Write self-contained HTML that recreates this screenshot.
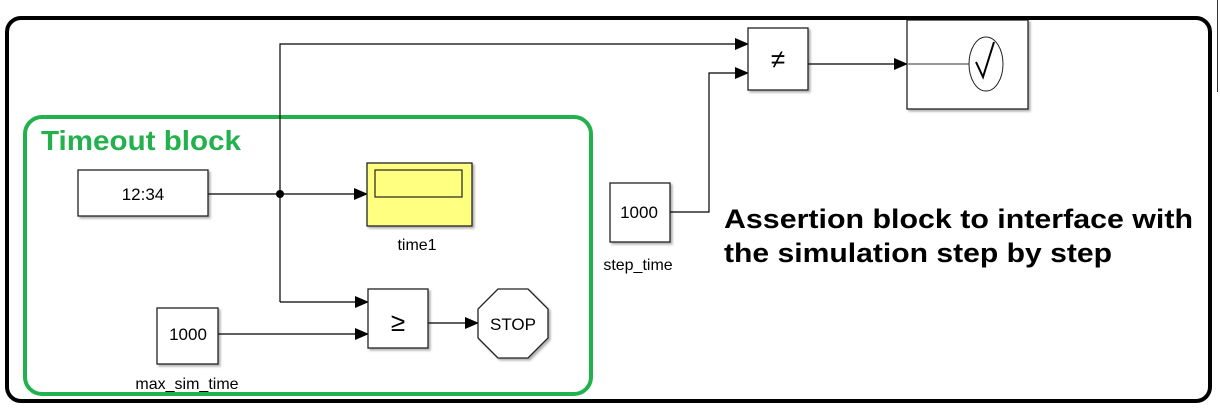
<!DOCTYPE html>
<html><head><meta charset="utf-8"><style>
html,body{margin:0;padding:0;background:#fff;width:1220px;height:413px;overflow:hidden}
svg{display:block}
text{font-family:"Liberation Sans",sans-serif}
</style></head><body>
<svg width="1220" height="413" viewBox="0 0 1220 413" xmlns="http://www.w3.org/2000/svg">
<defs>
<marker id="a" markerWidth="14" markerHeight="12" refX="13" refY="6" orient="auto" markerUnits="userSpaceOnUse"><path d="M0,0 L14,6 L0,12 Z" fill="#000"/></marker>
<filter id="s" x="-10%" y="-10%" width="130%" height="130%"><feDropShadow dx="2" dy="2" stdDeviation="1" flood-color="#000" flood-opacity="0.3"/></filter>
</defs>
<line x1="1217.5" y1="0" x2="1217.5" y2="92" stroke="#333" stroke-width="1"/>
<rect x="7" y="18" width="1203" height="383" rx="14" fill="none" stroke="#000" stroke-width="4"/>
<rect x="25" y="117" width="566" height="277" rx="17" fill="none" stroke="#22b14c" stroke-width="4"/>
<text x="41" y="150" font-size="28" font-weight="bold" fill="#22b14c" textLength="200" lengthAdjust="spacingAndGlyphs">Timeout block</text>

<g stroke="#000" stroke-width="1.2" fill="none">
<line x1="208" y1="194" x2="367" y2="194" marker-end="url(#a)"/>
<polyline points="280,302 280,44 748,44" marker-end="url(#a)"/>
<polyline points="280,302 368,302" marker-end="url(#a)"/>
<line x1="218" y1="334" x2="368" y2="334" marker-end="url(#a)"/>
<line x1="428" y1="323" x2="478" y2="323" marker-end="url(#a)"/>
<polyline points="670,212 709,212 709,73 748,73" marker-end="url(#a)"/>
<line x1="808" y1="64" x2="907" y2="64" marker-end="url(#a)"/>
</g>
<circle cx="280" cy="194" r="4" fill="#000"/>

<g stroke="#222" stroke-width="1.3" fill="#fff" filter="url(#s)">
<rect x="78" y="170" width="130" height="46"/>
<rect x="367" y="163" width="105" height="63" fill="#ffff80"/>
<rect x="368" y="289" width="60" height="59"/>
<polygon points="498,289 528,289 548,309 548,338 528,358 498,358 478,338 478,309"/>
<rect x="157" y="308" width="61" height="56"/>
<rect x="748" y="28" width="60" height="62"/>
<rect x="610" y="183" width="60" height="59"/>
<rect x="907" y="20" width="121" height="89"/>
</g>
<rect x="375" y="170" width="87" height="27" fill="none" stroke="#222" stroke-width="1.2"/>
<line x1="907" y1="64" x2="969" y2="64" stroke="#777" stroke-width="1.5"/>
<ellipse cx="986" cy="64" rx="17" ry="27" fill="#fff" stroke="#222" stroke-width="1"/>
<path d="M976,62 L983,77 L994,42" fill="none" stroke="#000" stroke-width="2"/>
<line x1="900" y1="18" x2="1040" y2="18" stroke="#000" stroke-width="4"/>

<g font-size="17" fill="#000" text-anchor="middle">
<text x="143" y="200">12:34</text>
<text x="417" y="250" font-size="16">time1</text>
<text x="398" y="331" font-size="26">≥</text>
<text x="513" y="330">STOP</text>
<text x="188" y="340">1000</text>
<text x="187" y="389" font-size="16">max_sim_time</text>
<text x="778" y="68" font-size="26">≠</text>
<text x="639" y="218">1000</text>
<text x="638" y="270" font-size="16">step_time</text>
</g>
<g font-size="27" font-weight="bold" fill="#000">
<text x="724" y="228" textLength="469" lengthAdjust="spacingAndGlyphs">Assertion block to interface with</text>
<text x="724" y="262" textLength="388" lengthAdjust="spacingAndGlyphs">the simulation step by step</text>
</g>
</svg>
</body></html>
